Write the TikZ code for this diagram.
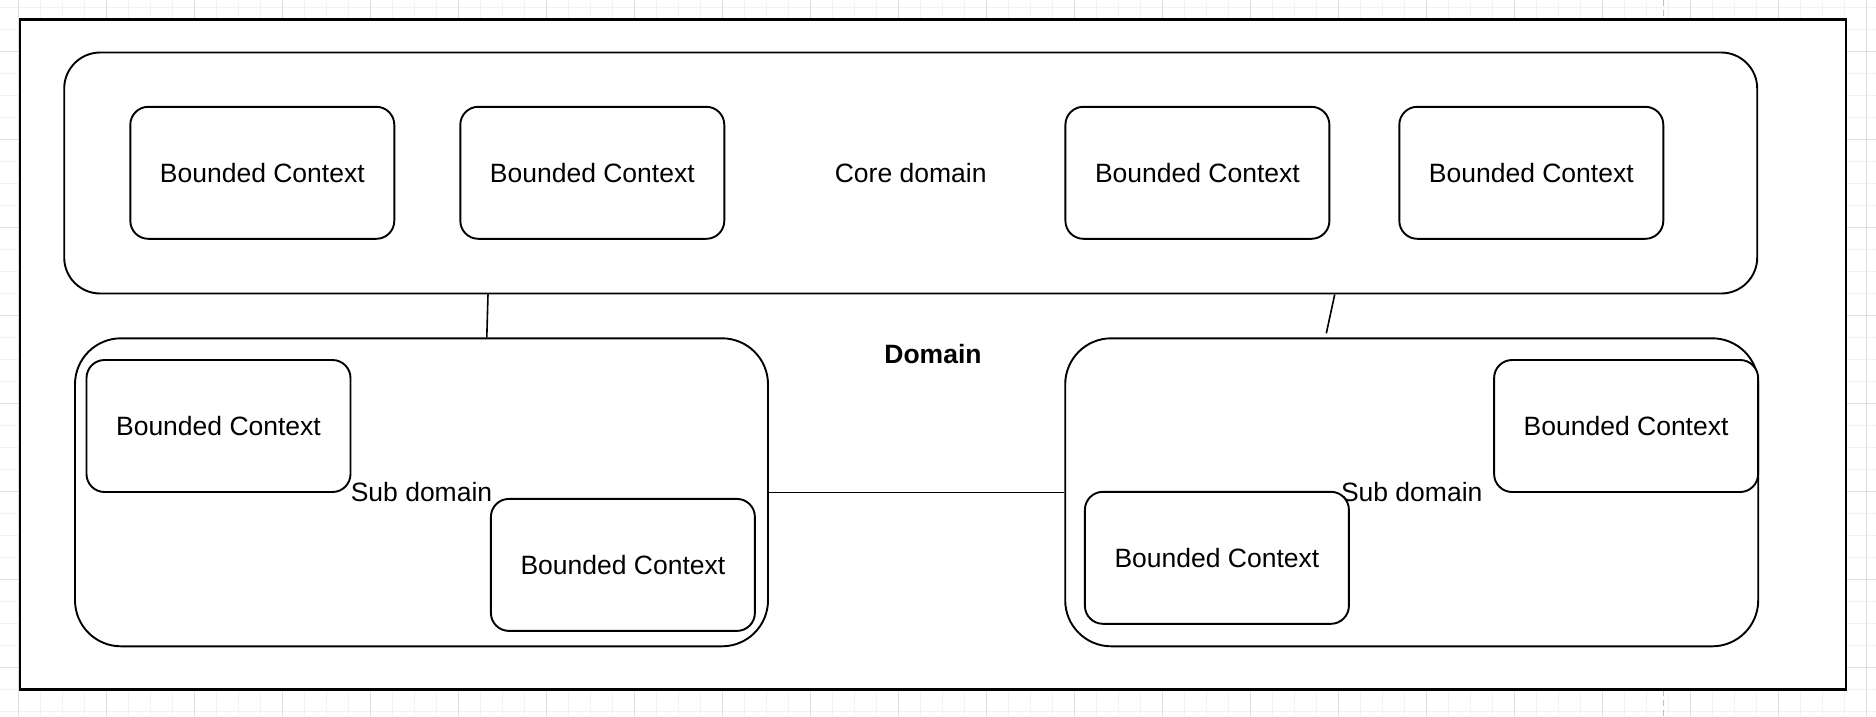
\documentclass[tikz,border=0pt]{standalone}
\usepackage{fontspec}
\setmainfont{Liberation Sans}
\begin{document}
\begin{tikzpicture}[x=1pt,y=-1pt,
    every node/.style={font=\fontsize{26.5}{31}\selectfont,inner sep=0pt},
    bc/.style={draw,fill=white,line width=1.9pt,rounded corners=18pt,minimum width=264pt,minimum height=132pt},
    sub/.style={draw,fill=white,line width=1.9pt,rounded corners=46pt,minimum width=693pt,minimum height=308pt},
    link/.style={line width=1.6pt}]
    \useasboundingbox (0,0) rectangle (1876,716);
    \fill[white] (0,0) rectangle (1876,716);
    \foreach \gx in {18.7,40.7,...,1876} \draw[color=black!5,line width=1pt] (\gx,0) -- (\gx,716);
    \foreach \gy in {7.7,29.7,...,716} \draw[color=black!5,line width=1pt] (0,\gy) -- (1876,\gy);
    \foreach \gx in {18.7,106.7,...,1876} \draw[color=black!13,line width=1pt] (\gx,0) -- (\gx,716);
    \foreach \gy in {51.7,139.7,...,716} \draw[color=black!13,line width=1pt] (0,\gy) -- (1876,\gy);
    \draw[color=black!25,line width=1.2pt,dash pattern=on 6pt off 4pt] (1663.3,0) -- (1663.3,716);
    \node[draw,fill=white,line width=2.4pt,minimum width=1826pt,minimum height=670pt,font=\fontsize{26.5}{31}\selectfont\bfseries] (dom) at (933,354.3) {Domain};
    \node[draw,fill=white,line width=1.9pt,rounded corners=36pt,minimum width=1693pt,minimum height=241pt] (core) at (910.7,173) {Core domain};
    \node[bc] (bc1) at (262.3,172.8) {Bounded Context};
    \node[bc] (bc2) at (592.3,172.8) {Bounded Context};
    \node[bc] (bc3) at (1197.4,172.8) {Bounded Context};
    \node[bc] (bc4) at (1531.3,172.8) {Bounded Context};
    \node[sub] (subl) at (421.5,492.3) {Sub domain};
    \node[sub] (subr) at (1411.7,492.3) {Sub domain};
    \node[bc] (bcl1) at (218.5,426) {Bounded Context};
    \node[bc] (bcl2) at (622.9,564.9) {Bounded Context};
    \node[bc] (bcr1) at (1626.1,426) {Bounded Context};
    \node[bc] (bcr2) at (1216.9,557.8) {Bounded Context};
    \draw[link] ([xshift=-422.7pt]core.south) -- ([xshift=65.3pt]subl.north);
    \draw[link] ([xshift=424pt]core.south) -- ([xshift=-85.4pt,yshift=4pt]subr.north);
    \draw[link] (subl.east) -- (subr.west);
\end{tikzpicture}
\end{document}
